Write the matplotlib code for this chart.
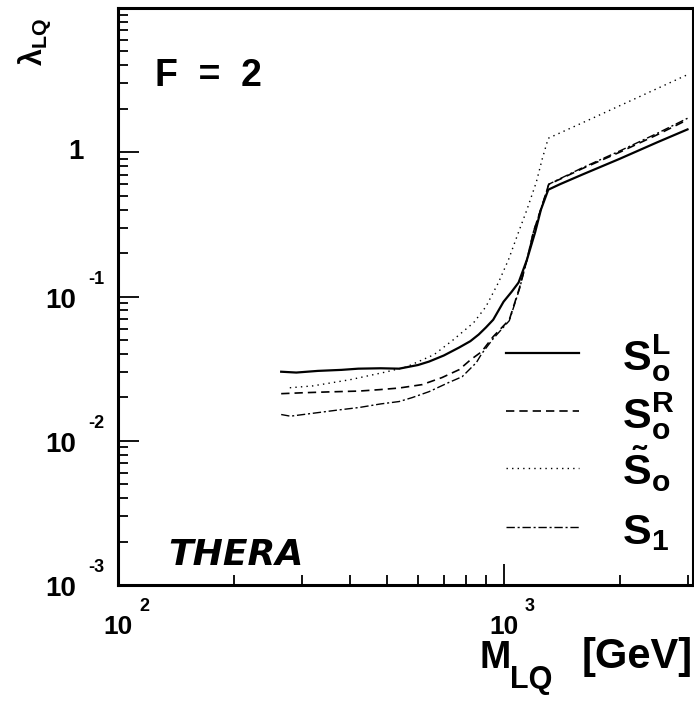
import matplotlib
matplotlib.use("Agg")
import matplotlib.pyplot as plt
from matplotlib.ticker import FixedLocator, NullFormatter

plt.rcParams["font.family"] = ["Liberation Sans", "DejaVu Sans"]
plt.rcParams["font.weight"] = "bold"
plt.rcParams["mathtext.fontset"] = "custom"
for k in ("rm", "it", "bf", "sf"):
    plt.rcParams["mathtext." + k] = "Liberation Sans:bold"
plt.rcParams["mathtext.default"] = "rm"

# --- data (M in GeV, lambda) ---
m_s0l = [265, 290, 330, 380, 420, 480, 536, 600, 641, 700, 767, 820, 862,
         900, 940, 1000, 1050, 1094, 1150, 1208, 1250, 1306, 1400, 1600,
         2000, 2500, 3000]
lam_s0l = [0.0301, 0.0297, 0.0305, 0.031, 0.0316, 0.0318, 0.0316, 0.0335,
           0.0354, 0.039, 0.0443, 0.049, 0.0545, 0.061, 0.069, 0.092, 0.108,
           0.125, 0.18, 0.28, 0.40, 0.55, 0.60, 0.70, 0.90, 1.17, 1.44]

m_s0r = [265, 300, 350, 422, 476, 536, 615, 692, 767, 822, 877, 940, 1035,
         1100, 1150, 1195, 1260, 1310, 1400, 1600, 2000, 2500, 3000]
lam_s0r = [0.0212, 0.0215, 0.0218, 0.0221, 0.0226, 0.0232, 0.0245, 0.0274,
           0.0311, 0.0365, 0.0414, 0.0527, 0.069, 0.115, 0.18, 0.28, 0.43,
           0.60, 0.65, 0.77, 1.00, 1.32, 1.68]

m_s1 = [265, 280, 320, 370, 422, 480, 536, 579, 641, 720, 781, 850, 877, 940,
        1035, 1100, 1150, 1195, 1260, 1310, 1400, 1600, 2000, 2500, 3000]
lam_s1 = [0.0152, 0.0148, 0.0155, 0.0163, 0.017, 0.018, 0.0187, 0.0199,
          0.0219, 0.0253, 0.0278, 0.0348, 0.040, 0.051, 0.068, 0.113, 0.18,
          0.28, 0.43, 0.60, 0.655, 0.78, 1.02, 1.35, 1.72]

m_s0t = [279, 320, 400, 496, 560, 660, 740, 837, 900, 970, 1030, 1094, 1150,
         1216, 1260, 1306, 1400, 1700, 2000, 2500, 3000]
lam_s0t = [0.0233, 0.024, 0.0265, 0.030, 0.0325, 0.0395, 0.050, 0.066, 0.085,
           0.125, 0.18, 0.28, 0.40, 0.62, 0.90, 1.25, 1.36, 1.72, 2.1, 2.76,
           3.45]

xmajor = [100, 1000]
xexp = ["2", "3"]
ymajor = [1e-3, 1e-2, 1e-1]
yexp = ["-3", "-2", "-1"]

fig = plt.figure(figsize=(6.94, 7.10), dpi=100)
ax = fig.add_axes([118 / 694, 125 / 710, 575 / 694, 577 / 710])
ax.set_xscale("log")
ax.set_yscale("log")
ax.set_xlim(100, 3100)
ax.set_ylim(1e-3, 10)

ls_dash = (0, (5, 3))
ls_dot = (0, (1, 3))
ls_dashdot = (0, (6, 2, 1.5, 2))
ax.plot(m_s0l, lam_s0l, color="black", lw=1.6)
ax.plot(m_s0r, lam_s0r, color="black", lw=1.2, ls=ls_dash)
ax.plot(m_s0t, lam_s0t, color="black", lw=1.0, ls=ls_dot)
ax.plot(m_s1, lam_s1, color="black", lw=1.0, ls=ls_dashdot)

# frame and ticks
for s in ax.spines.values():
    s.set_linewidth(2.2)
ax.tick_params(which="both", direction="in", top=False, right=False, width=1.3,
               labelbottom=False, labelleft=False)
ax.tick_params(which="major", length=15)
ax.tick_params(which="minor", length=7.5)

ax.xaxis.set_major_locator(FixedLocator(xmajor))
ax.xaxis.set_minor_locator(FixedLocator([200, 300, 400, 500, 600, 700, 800, 900, 2000, 3000]))
ax.xaxis.set_minor_formatter(NullFormatter())
ax.yaxis.set_major_locator(FixedLocator(ymajor + [1]))
yminor = [k * 10.0 ** e for e in (-3, -2, -1, 0) for k in range(2, 10)]
ax.yaxis.set_minor_locator(FixedLocator(yminor))
ax.yaxis.set_minor_formatter(NullFormatter())

# tick labels in the old "10  ^n" style (base and raised exponent apart)
xt = ax.get_xaxis_transform()
yt = ax.get_yaxis_transform()
for v, e in zip(xmajor, xexp):
    ax.annotate("10", (v, 0), xycoords=xt, xytext=(0, -42),
                textcoords="offset pixels", ha="center", va="center",
                fontsize=19, annotation_clip=False)
    ax.annotate(e, (v, 0), xycoords=xt, xytext=(21, -30),
                textcoords="offset pixels", ha="left", va="bottom",
                fontsize=13, annotation_clip=False)
for v, e in zip(ymajor, yexp):
    ax.annotate("10", (0, v), xycoords=yt, xytext=(-42, -4),
                textcoords="offset pixels", ha="right", va="center",
                fontsize=20, annotation_clip=False)
    ax.annotate(e, (0, v), xycoords=yt, xytext=(-30, 9),
                textcoords="offset pixels", ha="left", va="bottom",
                fontsize=13, annotation_clip=False)
ax.annotate("1", (0, 1), xycoords=yt, xytext=(-34, 0),
            textcoords="offset pixels", ha="right", va="center", fontsize=20,
            annotation_clip=False)

# legend drawn by hand
leg_y = [0.402, 0.302, 0.203, 0.1005]
leg_ls = ["-", ls_dash, ls_dot, ls_dashdot]
leg_lw = [1.6, 1.2, 1.0, 1.0]
leg_lab = [r"$S_o^L$", r"$S_o^R$", r"$\tilde{S}_o$", r"$S_1$"]
for y, ls, lw, lab in zip(leg_y, leg_ls, leg_lw, leg_lab):
    ax.plot([0.675, 0.802], [y, y], transform=ax.transAxes, color="black",
            lw=lw, ls=ls)
    ax.text(0.876, y - 0.03, lab, transform=ax.transAxes, fontsize=31,
            ha="left", va="baseline")

ax.text(0.065, 0.864, "F  =  2", transform=ax.transAxes, fontsize=27,
        fontweight="bold", ha="left", va="baseline")
ax.text(0.087, 0.035, "THERA", transform=ax.transAxes, fontsize=26,
        family="DejaVu Sans", style="oblique", fontweight="bold",
        ha="left", va="baseline")

# axis titles
fig.text(479 / 694, (710 - 668) / 710, "M", fontsize=27, ha="left",
         va="baseline")
fig.text(510 / 694, (710 - 688) / 710, "LQ", fontsize=22, ha="left",
         va="baseline")
fig.text(693 / 694, (710 - 668) / 710, "[GeV]", fontsize=30, ha="right",
         va="baseline")
fig.text(35 / 694, (710 - 42) / 710, r"$\lambda_{LQ}$", fontsize=22,
         rotation=90, ha="center", va="center")

fig.savefig("out.png", dpi=100, facecolor="white")
